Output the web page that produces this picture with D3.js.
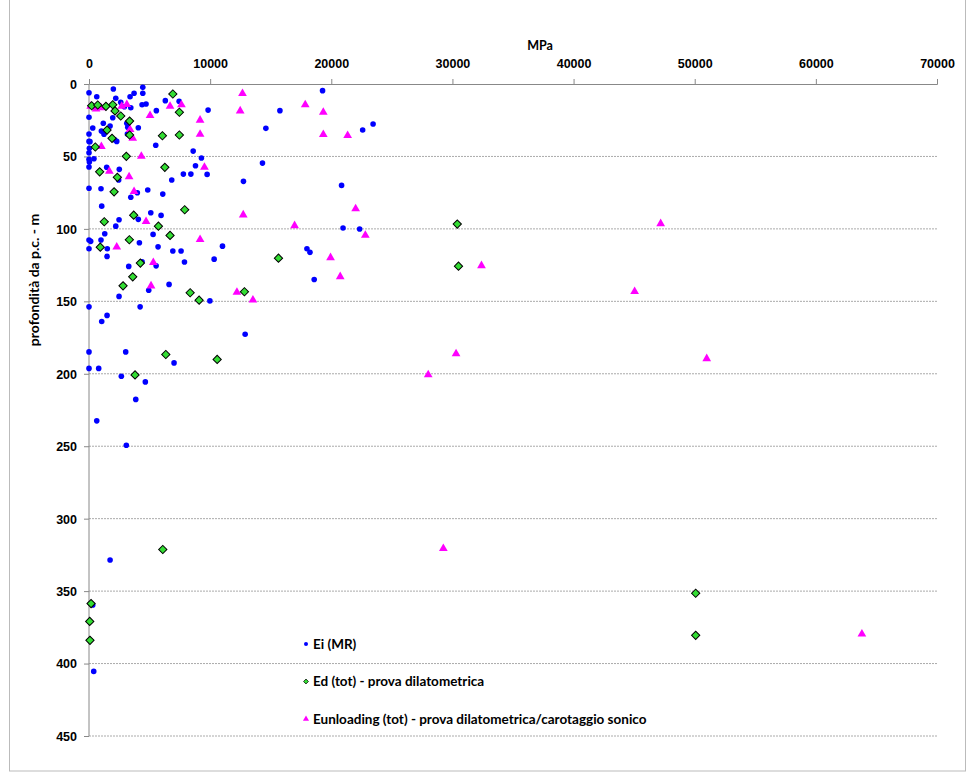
<!DOCTYPE html>
<html>
<head>
<meta charset="utf-8">
<script src="https://cdn.jsdelivr.net/npm/d3@7"></script>
<style>
  body { margin: 0; background: #fff; }
  svg { font-family: Lato, 'Open Sans', sans-serif; }
  .ejes text { font-weight: bold; font-size: 12.5px; fill: #000; }
  .ejes path, .ejes line { stroke: #888; }
</style>
</head>
<body>
<div id="graf"></div>
<script>
// valori: [MPa, profondità m]
const eiData = [
  [0,6],[640,8.8],[2010,3.5],[2210,9.9],[2620,12.6],[3390,8.8],[3720,6.4],[4440,2.3],[4440,6.4],
  [2920,15.7],[3450,16.4],[4380,14.3],[4710,13.8],[6300,11.5],[7440,11.9],[5560,18.4],[9830,18],
  [0,23],[1180,27.1],[1740,29],[1960,23.3],[310,30.4],[1020,32.5],[1240,34.7],[0,34.5],[3120,27.1],
  [3200,29.9],[3170,34.5],[4070,30.2],[2120,38.5],[2290,39.6],[0,39.6],[80,39.8],[30,44.4],[0,47.4],
  [5510,42.3],[8600,46.3],[9280,51.1],[8790,56.4],[7790,62.2],[8410,62.2],[9750,62.4],[12750,67.2],
  [0,52],[30,53.9],[410,51.6],[0,57.3],[1460,57.5],[2500,58.9],[2450,66.3],[6830,66.3],[0,72],
  [990,72.3],[4850,73.2],[6090,76],[3990,75.1],[3450,78.2],[1050,84.3],[5100,88.9],[5950,90.7],
  [2480,93.7],[4070,93.4],[2210,98.1],[1300,103.4],[5290,103.8],[990,107.7],[0,107.7],[140,108.6],
  [0,113.7],[1510,113.7],[4160,109.6],[5700,112.4],[6920,115.3],[7600,115.3],[11020,111.9],[1490,119],
  [7880,122.9],[10330,120.9],[4380,122.7],[3280,125.9],[5540,125.5],[6610,138.3],[4930,142.3],
  [2480,146.6],[9980,149.7],[0,153.8],[4220,153.8],[1490,159.7],[1050,163.9],[12890,172.7],[0,184.9],
  [3030,184.9],[0,196.3],[800,196.3],[7020,192.5],[2670,201.7],[4650,205.6],[3860,217.7],[640,232.5],
  [3080,249.3],[1740,328.5],[310,359.6],[390,405.4],[19280,4.6],[15760,18.4],[14600,30.6],[22590,31.8],
  [23450,27.6],[14320,54.6],[20850,70],[20970,99.4],[22340,100.1],[17990,113.7],[18240,116.2],[18590,134.9]
]

const edData = [
  [6920,6.9],[220,15],[720,14.5],[1400,15.4],[1960,14.3],[2150,18.6],[2620,22.1],[7460,19.5],
  [3350,25.6],[1490,31.8],[1900,37.5],[3350,35.2],[6060,35.7],[7460,35.2],[520,43.5],[3080,49.9],
  [880,60.6],[2340,64.4],[6260,57.5],[2070,74.4],[7900,86.8],[3690,90.5],[1260,95.1],[5730,98.1],
  [6690,104.5],[3330,107.5],[930,112.6],[4240,123.6],[3610,133.1],[2810,139.3],[8350,144.1],
  [9090,149.2],[12830,143.4],[15640,120.2],[6340,186.7],[10580,190.1],[3800,200.8],[6090,321.3],
  [170,358.6],[60,370.9],[80,384],[30400,96.7],[30500,125.7],[50080,351.5],[50080,380.5]
]

const euData = [
  [12670,6.9],[12480,18.9],[7630,14.7],[6690,15.7],[3120,14.5],[2700,15.7],[140,15.7],[580,17.5],
  [990,16.8],[5040,22.1],[9170,25.3],[9170,35],[3390,31.8],[3610,37.8],[1020,43.5],[4320,50.2],
  [9530,57.8],[1680,60.6],[3310,64.4],[3720,74.6],[12730,90.7],[4710,95.3],[9170,107.7],[2290,112.8],
  [5310,123.6],[5120,139.7],[12210,144.1],[13530,149.4],[17850,14.7],[19340,19.8],[19340,35.2],
  [21350,35.9],[22010,86.5],[22810,104.8],[16970,98.1],[19940,120.2],[20740,133.3],[32400,125.7],
  [47190,96.7],[45040,143.6],[50990,189.9],[30300,186.5],[28000,201],[29250,321],[63800,380]
]

const xTicks = [0, 10000, 20000, 30000, 40000, 50000, 60000, 70000]
const yTicks = [0, 50, 100, 150, 200, 250, 300, 350, 400, 450]
const legendLabels = ['Ei (MR)', 'Ed (tot) - prova dilatometrica', 'Eunloading (tot) - prova dilatometrica/carotaggio sonico']

const anchoTotal = 975
const altoTotal = 782

const margin = { top: 84, left: 89, right: 38, bottom: 46 }
const ancho = anchoTotal - margin.left - margin.right
const alto = altoTotal - margin.top - margin.bottom

const svg = d3.select('#graf')
  .append('svg')
  .attr('width', anchoTotal)
  .attr('height', altoTotal)

// cornice del grafico
svg.append('rect')
  .attr('x', 9.5).attr('y', -2)
  .attr('width', 956).attr('height', 773)
  .attr('fill', 'none')
  .attr('stroke', '#bbb')

const g = svg.append('g')
  .attr('transform', `translate(${margin.left}, ${margin.top})`)

const x = d3.scaleLinear().domain([0, 70000]).range([0, ancho])
const y = d3.scaleLinear().domain([0, 450]).range([0, alto])

// griglia orizzontale
g.selectAll('.grid')
  .data(yTicks.filter(d => d > 0))
  .enter()
  .append('line')
  .attr('x1', 0).attr('x2', ancho)
  .attr('y1', d => y(d)).attr('y2', d => y(d))
  .attr('stroke', '#aaa')
  .attr('stroke-dasharray', '2,1')

const xAxisGroup = g.append('g').attr('class', 'ejes')
xAxisGroup.call(d3.axisTop(x).tickValues(xTicks).tickSize(5).tickFormat(d3.format('d')))
xAxisGroup.selectAll('text').attr('dy', '-8')

const yAxisGroup = g.append('g').attr('class', 'ejes')
yAxisGroup.call(d3.axisLeft(y).tickValues(yTicks).tickSize(5))
yAxisGroup.selectAll('text').attr('dx', '-4').attr('dy', '0.35em')
yAxisGroup.select('.domain').attr('d', `M0,0V${alto}`)

svg.append('text')
  .attr('x', 540).attr('y', 50)
  .attr('text-anchor', 'middle')
  .attr('font-weight', 'bold').attr('font-size', 12.5)
  .text('MPa')

svg.append('text')
  .attr('transform', 'translate(39, 280) rotate(-90)')
  .attr('text-anchor', 'middle')
  .attr('font-weight', 'bold').attr('font-size', 14)
  .text('profondità da p.c. - m')

const diamond = d3.symbol().type(d3.symbolSquare).size(34)
const triangle = d3.symbol().type(d3.symbolTriangle).size(33)

g.selectAll('.ei')
  .data(eiData)
  .enter()
  .append('circle')
  .attr('cx', d => x(d[0]))
  .attr('cy', d => y(d[1]))
  .attr('r', 2.8)
  .attr('fill', '#0000ff')

g.selectAll('.eu')
  .data(euData)
  .enter()
  .append('path')
  .attr('d', triangle)
  .attr('transform', d => `translate(${x(d[0])}, ${y(d[1]) - 0.5})`)
  .attr('fill', '#ff00ff')

g.selectAll('.ed')
  .data(edData)
  .enter()
  .append('path')
  .attr('d', diamond)
  .attr('transform', d => `translate(${x(d[0])}, ${y(d[1])}) rotate(45)`)
  .attr('fill', '#33dd33')
  .attr('stroke', '#000')
  .attr('stroke-width', 1)

// legenda
const legend = svg.append('g').attr('transform', 'translate(306, 644)')
const legY = d3.scalePoint().domain(legendLabels).range([0, 75])

legend.append('circle')
  .attr('cx', 0).attr('cy', legY(legendLabels[0]))
  .attr('r', 2).attr('fill', '#0000ff')
legend.append('path')
  .attr('d', d3.symbol().type(d3.symbolSquare).size(12))
  .attr('transform', `translate(0, ${legY(legendLabels[1])}) rotate(45)`)
  .attr('fill', '#33dd33').attr('stroke', '#000').attr('stroke-width', 0.7)
legend.append('path')
  .attr('d', d3.symbol().type(d3.symbolTriangle).size(16))
  .attr('transform', `translate(0, ${legY(legendLabels[2])})`)
  .attr('fill', '#ff00ff')

legend.selectAll('.lab')
  .data(legendLabels)
  .enter()
  .append('text')
  .attr('x', 7)
  .attr('y', d => legY(d))
  .attr('dy', '0.35em')
  .attr('font-weight', 'bold').attr('font-size', 13.5)
  .text(d => d)
</script>
</body>
</html>
